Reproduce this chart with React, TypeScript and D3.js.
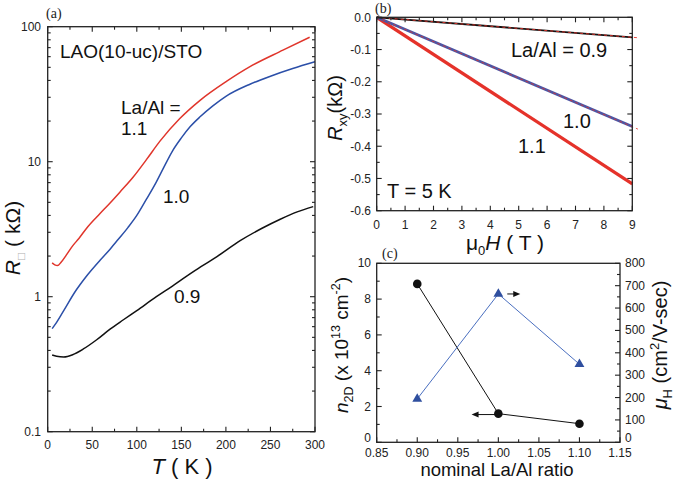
import React from 'react';
import * as d3 from 'd3';

// ---------- Panel (a): sheet resistance vs temperature ----------
const tempK09 = [5, 10, 18, 28, 40, 55, 70, 85, 100, 122, 140, 156, 172, 190, 216, 240, 261, 280, 298];
const rSheet09 = [0.37, 0.362, 0.358, 0.372, 0.41, 0.48, 0.575, 0.675, 0.79, 1.0, 1.2, 1.42, 1.67, 1.98, 2.6, 3.2, 3.75, 4.25, 4.65];
const tempK10 = [5, 10, 20, 30, 36, 45, 59, 70, 79, 90, 100, 111, 122, 130, 140, 150, 160, 171, 185, 200, 227, 250, 275, 300];
const rSheet10 = [0.58, 0.645, 0.83, 1.07, 1.22, 1.46, 1.87, 2.25, 2.65, 3.25, 4.0, 5.3, 7.1, 9.0, 12.0, 15.0, 18.2, 21.5, 25.8, 30.5, 37.5, 43, 49, 55];
const tempK11 = [5, 8, 11, 15, 21, 28, 35, 45, 59, 70, 81, 96, 111, 126, 148, 171, 201, 227, 264, 294];
const rSheet11 = [1.78, 1.72, 1.7, 1.8, 2.04, 2.38, 2.7, 3.3, 4.15, 4.95, 5.95, 7.7, 10.4, 14.2, 20.8, 28.5, 39.5, 50.6, 67, 83.5];
const aTempTicks = [0, 50, 100, 150, 200, 250, 300];
const aResTicks = [0.1, 1, 10, 100];
const aResLabels = ['0.1', '1', '10', '100'];

// ---------- Panel (b): Hall resistance vs field ----------
const fieldH = [0, 9];
const rxy09 = [0, -0.062];
const rxy10 = [0, -0.339];
const rxy11 = [0, -0.517];
const fitH = [0, 9.2];
const fit09 = [0, -0.0634];
const fit10 = [0, -0.347];
const bFieldTicks = [0, 1, 2, 3, 4, 5, 6, 7, 8, 9];
const bRxyTicks = [0, -0.1, -0.2, -0.3, -0.4, -0.5, -0.6];

// ---------- Panel (c): carrier density and mobility vs La/Al ----------
const laAlRatio = [0.9, 1.0, 1.1];
const n2D = [8.85, 1.6, 1.04];
const mobility = [194, 663, 349];
const cRatioTicks = [0.85, 0.9, 0.95, 1.0, 1.05, 1.1, 1.15];
const cNTicks = [0, 2, 4, 6, 8, 10];
const cMuTicks = [0, 100, 200, 300, 400, 500, 600, 700, 800];

const FONT = 'Arial, "Liberation Sans", Helvetica, sans-serif';
const SERIF = '"Times New Roman", "Liberation Serif", serif';
const AX = '#222';
const RED_A = '#e0352b';
const BLUE_A = '#2b4fa8';
const RED_B = '#e5322a';
const BLUE_B = '#4b56a5';
const BLUE_C = '#2f4f9f';

type Sc = (v: number) => number;

function range(a: number, b: number, s: number) {
  const out: number[] = [];
  for (let v = a; v <= b + s * 1e-6; v += s) out.push(+v.toFixed(6));
  return out;
}

function vTicks(sc: Sc, vals: number[], y0: number, y1: number, len: number, top: boolean, key: string) {
  return vals.map((v, i) => (
    <g key={key + i}>
      <line x1={sc(v)} x2={sc(v)} y1={y1} y2={y1 - len} stroke={AX} strokeWidth={1.1} />
      {top && <line x1={sc(v)} x2={sc(v)} y1={y0} y2={y0 + len} stroke={AX} strokeWidth={1.1} />}
    </g>
  ));
}
function hTicks(sc: Sc, vals: number[], x0: number, x1: number, len: number, left: boolean, right: boolean, key: string) {
  return vals.map((v, i) => (
    <g key={key + i}>
      {left && <line x1={x0} x2={x0 + len} y1={sc(v)} y2={sc(v)} stroke={AX} strokeWidth={1.1} />}
      {right && <line x1={x1} x2={x1 - len} y1={sc(v)} y2={sc(v)} stroke={AX} strokeWidth={1.1} />}
    </g>
  ));
}

export default function App() {
  // Panel a
  const xa = d3.scaleLinear().domain([0, 300]).range([47.7, 315]);
  const ya = d3.scaleLog().domain([0.1, 100]).range([431.7, 26.7]);
  const lineA = (ts: number[], rs: number[]) =>
    d3.line<number>().x((_, i) => xa(ts[i])).y((r) => ya(r)).curve(d3.curveMonotoneX)(rs) || '';
  const aMinorX = range(25, 275, 50);
  const aMinorY: number[] = [];
  [0.1, 1, 10].forEach((d) => { for (let k = 2; k <= 9; k++) aMinorY.push(d * k); });

  // Panel b
  const xb = d3.scaleLinear().domain([0, 9]).range([376.7, 632.3]);
  const yb = d3.scaleLinear().domain([-0.6, 0]).range([210.7, 17.3]);
  const lineB = (hs: number[], rs: number[]) =>
    d3.line<number>().x((_, i) => xb(hs[i])).y((r) => yb(r))(rs) || '';
  const bMinorX = range(0.5, 8.5, 1);
  const bMinorY = range(-0.55, -0.05, 0.1);

  // Panel c
  const xc = d3.scaleLinear().domain([0.85, 1.15]).range([376.7, 620]);
  const ycL = d3.scaleLinear().domain([0, 10]).range([442.3, 263.3]);
  const ycR = d3.scaleLinear().domain([0, 800]).range([442.3, 263.3]);
  const cMinorX = range(0.875, 1.125, 0.05);
  const cMinorL = range(1, 9, 2);
  const cMinorR = range(50, 750, 100);
  const lineN = d3.line<number>().x((_, i) => xc(laAlRatio[i])).y((v) => ycL(v))(n2D) || '';
  const lineMu = d3.line<number>().x((_, i) => xc(laAlRatio[i])).y((v) => ycR(v))(mobility) || '';
  const tri = d3.symbol().type(d3.symbolTriangle).size(42)() || '';

  // arrows in panel c
  const rA = { x0: xc(1.011), x1: xc(1.027), y: ycR(663) };
  const lA = { x0: xc(0.997), x1: xc(0.967), y: ycL(1.55) };

  const tickFont = { fontFamily: FONT, fontSize: 12, fill: AX };

  return (
    <svg width={675} height={480} viewBox="0 0 675 480"
      style={{ position: 'absolute', left: 0, top: 0, background: '#fff' }}
      fontFamily={FONT}>
      <rect x={0} y={0} width={675} height={480} fill="#fff" />

      {/* ================= Panel (a) ================= */}
      <text x={46} y={18} fontFamily={SERIF} fontSize={14} fill={AX}>(a)</text>
      <path d={lineA(tempK09, rSheet09)} fill="none" stroke="#111" strokeWidth={1.5} />
      <path d={lineA(tempK10, rSheet10)} fill="none" stroke={BLUE_A} strokeWidth={1.5} />
      <path d={lineA(tempK11, rSheet11)} fill="none" stroke={RED_A} strokeWidth={1.5} />
      {vTicks(xa, aTempTicks, 26.7, 431.7, 5, true, 'axM')}
      {vTicks(xa, aMinorX, 26.7, 431.7, 3, true, 'axm')}
      {hTicks(ya, aResTicks, 47.7, 315, 5, true, true, 'ayM')}
      {hTicks(ya, aMinorY, 47.7, 315, 3, true, true, 'aym')}
      <rect x={47.7} y={26.7} width={315 - 47.7} height={431.7 - 26.7} fill="none" stroke={AX} strokeWidth={1.3} />
      {aTempTicks.map((t) => (
        <text key={'axl' + t} x={xa(t)} y={449} textAnchor="middle" {...tickFont}>{t}</text>
      ))}
      {aResTicks.map((r, i) => (
        <text key={'ayl' + r} x={41} y={ya(r) + 4.3} textAnchor="end" {...tickFont}>{aResLabels[i]}</text>
      ))}
      <text x={60} y={58} fontSize={19} fill="#111">LAO(10-uc)/STO</text>
      <text x={121} y={114} fontSize={19} fill="#111">La/Al =</text>
      <text x={121} y={135} fontSize={19} fill="#111">1.1</text>
      <text x={163} y={203} fontSize={19} fill="#111">1.0</text>
      <text x={174} y={303} fontSize={19} fill="#111">0.9</text>
      <text x={182} y={474} textAnchor="middle" fontSize={22} fill="#111">
        <tspan fontStyle="italic">T</tspan> ( K )
      </text>
      <text transform="translate(20,238) rotate(-90)" textAnchor="middle" fontSize={21} fill="#111">
        <tspan fontStyle="italic">R</tspan>
        <tspan fontSize={12} dy={5} fill="#b0b0b0">□</tspan>
        <tspan dy={-5}> (  kΩ)</tspan>
      </text>

      {/* ================= Panel (b) ================= */}
      <text x={375} y={13} fontFamily={SERIF} fontSize={14} fill={AX}>(b)</text>
      <path d={lineB(fieldH, rxy11)} fill="none" stroke={RED_B} strokeWidth={3.3} />
      <path d={lineB(fieldH, rxy10)} fill="none" stroke={BLUE_B} strokeWidth={2.8} />
      <path d={lineB(fitH, fit10)} fill="none" stroke={RED_B} strokeWidth={0.8} strokeDasharray="3,3" />
      <path d={lineB(fieldH, rxy09)} fill="none" stroke="#111" strokeWidth={1.8} />
      <path d={lineB(fitH, fit09)} fill="none" stroke={RED_B} strokeWidth={0.9} strokeDasharray="3,3" />
      {vTicks(xb, bFieldTicks, 17.3, 210.7, 5, true, 'bxM')}
      {vTicks(xb, bMinorX, 17.3, 210.7, 3, true, 'bxm')}
      {hTicks(yb, bRxyTicks, 376.7, 632.3, 5, true, true, 'byM')}
      {hTicks(yb, bMinorY, 376.7, 632.3, 3, true, true, 'bym')}
      <rect x={376.7} y={17.3} width={632.3 - 376.7} height={210.7 - 17.3} fill="none" stroke={AX} strokeWidth={1.3} />
      {bFieldTicks.map((t) => (
        <text key={'bxl' + t} x={xb(t)} y={228.5} textAnchor="middle" {...tickFont}>{t}</text>
      ))}
      {bRxyTicks.map((t) => (
        <text key={'byl' + t} x={371} y={yb(t) + 4.3} textAnchor="end" {...tickFont}>{t === 0 ? '0.0' : t.toFixed(1)}</text>
      ))}
      <text x={511} y={57} fontSize={20} fill="#111">La/Al = 0.9</text>
      <text x={563} y={128} fontSize={20} fill="#111">1.0</text>
      <text x={518} y={153} fontSize={20} fill="#111">1.1</text>
      <text x={387} y={198} fontSize={20} fill="#111">T = 5 K</text>
      <text x={505} y={250} textAnchor="middle" fontSize={21} fill="#111">
        μ<tspan fontSize={13} dy={5}>0</tspan><tspan dy={-5} fontStyle="italic">H</tspan><tspan> ( T )</tspan>
      </text>
      <text transform="translate(342,108) rotate(-90)" textAnchor="middle" fontSize={20} fill="#111">
        <tspan fontStyle="italic">R</tspan>
        <tspan fontSize={13} dy={5}>xy</tspan>
        <tspan dy={-5}>(kΩ)</tspan>
      </text>

      {/* ================= Panel (c) ================= */}
      <text x={382} y={258} fontFamily={SERIF} fontSize={14} fill={AX}>(c)</text>
      <path d={lineN} fill="none" stroke="#111" strokeWidth={1} />
      <path d={lineMu} fill="none" stroke="#4a6fc0" strokeWidth={1} />
      {laAlRatio.map((r, i) => (
        <circle key={'cn' + i} cx={xc(r)} cy={ycL(n2D[i])} r={4.3} fill="#111" />
      ))}
      {laAlRatio.map((r, i) => (
        <path key={'cm' + i} d={tri} transform={`translate(${xc(r)},${ycR(mobility[i])})`} fill={BLUE_C} />
      ))}
      {/* arrows */}
      <line x1={rA.x0} x2={rA.x1 - 5} y1={rA.y} y2={rA.y} stroke="#111" strokeWidth={1} />
      <path d={`M${rA.x1},${rA.y} L${rA.x1 - 7},${rA.y - 3} L${rA.x1 - 7},${rA.y + 3} Z`} fill="#111" />
      <line x1={lA.x0} x2={lA.x1 + 5} y1={lA.y} y2={lA.y} stroke="#111" strokeWidth={1} />
      <path d={`M${lA.x1},${lA.y} L${lA.x1 + 7},${lA.y - 3} L${lA.x1 + 7},${lA.y + 3} Z`} fill="#111" />
      {vTicks(xc, cRatioTicks, 263.3, 442.3, 5, false, 'cxM')}
      {vTicks(xc, cMinorX, 263.3, 442.3, 3, false, 'cxm')}
      {hTicks(ycL, cNTicks, 376.7, 620, 5, true, false, 'cyM')}
      {hTicks(ycL, cMinorL, 376.7, 620, 3, true, false, 'cym')}
      {hTicks(ycR, cMuTicks, 376.7, 620, 5, false, true, 'crM')}
      {hTicks(ycR, cMinorR, 376.7, 620, 3, false, true, 'crm')}
      <rect x={376.7} y={263.3} width={620 - 376.7} height={442.3 - 263.3} fill="none" stroke={AX} strokeWidth={1.3} />
      {cRatioTicks.map((t) => (
        <text key={'cxl' + t} x={xc(t)} y={456.5} textAnchor="middle" {...tickFont}>{t.toFixed(2)}</text>
      ))}
      {cNTicks.map((t) => (
        <text key={'cyl' + t} x={371} y={ycL(t) + (t === 0 ? 0 : 4)} textAnchor="end" {...tickFont}>{t}</text>
      ))}
      {cMuTicks.map((t) => (
        <text key={'crl' + t} x={625} y={ycR(t) + (t === 0 ? 0 : 4)} textAnchor="start" {...tickFont}>{t}</text>
      ))}
      <text x={497} y={476} textAnchor="middle" fontSize={18.5} fill="#111">nominal La/Al ratio</text>
      <text transform="translate(348,345) rotate(-90)" textAnchor="middle" fontSize={19} fill="#111">
        <tspan fontStyle="italic">n</tspan>
        <tspan fontSize={12.5} dy={5}>2D</tspan>
        <tspan dy={-5}> (x 10</tspan>
        <tspan fontSize={12.5} dy={-8}>13</tspan>
        <tspan dy={8}> cm</tspan>
        <tspan fontSize={12.5} dy={-8}>-2</tspan>
        <tspan dy={8}>)</tspan>
      </text>
      <text transform="translate(667,345) rotate(-90)" textAnchor="middle" fontSize={20} fill="#111">
        <tspan fontStyle="italic">μ</tspan>
        <tspan fontSize={13} dy={5}>H</tspan>
        <tspan dy={-5}> (cm</tspan>
        <tspan fontSize={13} dy={-8}>2</tspan>
        <tspan dy={8}>/V-sec)</tspan>
      </text>
    </svg>
  );
}
